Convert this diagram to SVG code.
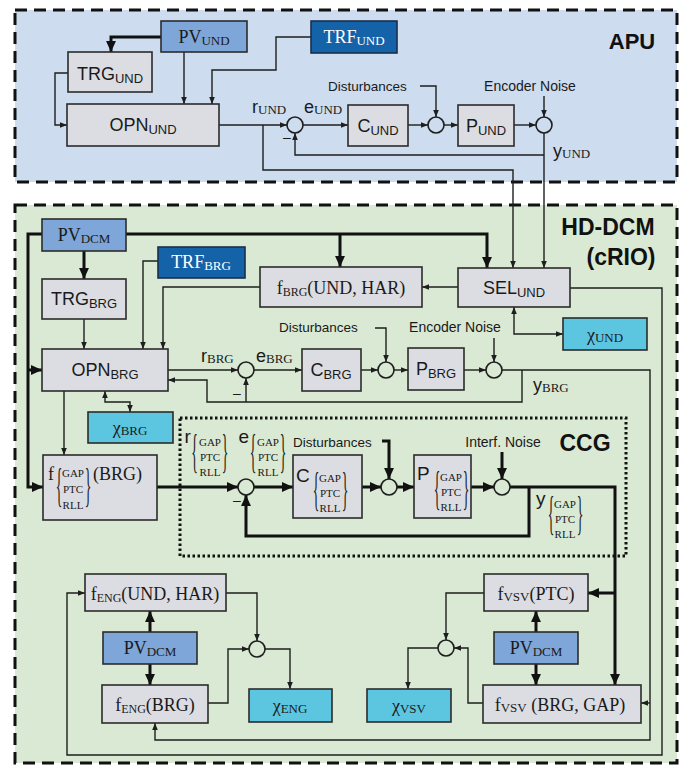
<svg xmlns="http://www.w3.org/2000/svg" width="685" height="767" viewBox="0 0 685 767">
<defs>
<style>
.box{fill:#dcdde2;stroke:#2b2b2b;stroke-width:1.6}
.pv{fill:#7ea6d8;stroke:#2b2b2b;stroke-width:1.6}
.trf{fill:#1462a8;stroke:#1b2f4c;stroke-width:1.6}
.chi{fill:#5cc6e0;stroke:#2b2b2b;stroke-width:1.6}
.sum{fill:none;stroke:#1e1e1e;stroke-width:1.6}
.thin{fill:none;stroke:#1e1e1e;stroke-width:1.4}
.thick{fill:none;stroke:#111;stroke-width:3}
.sans{font-family:"Liberation Sans",Arial,sans-serif;fill:#1a1a1a}
.serif{font-family:"Liberation Serif","Times New Roman",serif;fill:#1a1a1a}
.bold{font-family:"Liberation Sans",Arial,sans-serif;font-weight:bold;fill:#111}
.st{font-family:"Liberation Serif","Times New Roman",serif;fill:#1a1a1a;font-size:11px;text-anchor:middle}
.w{fill:#fff}
.mid{text-anchor:middle}
</style>
<marker id="a" viewBox="0 0 10 10" refX="10" refY="5" markerWidth="7" markerHeight="7" markerUnits="userSpaceOnUse" orient="auto-start-reverse"><path d="M0,1 L10,5 L0,9 z" fill="#1e1e1e"/></marker>
<marker id="b" viewBox="0 0 10 10" refX="10" refY="5" markerWidth="11" markerHeight="11" markerUnits="userSpaceOnUse" orient="auto-start-reverse"><path d="M0,0.5 L10,5 L0,9.5 z" fill="#111"/></marker>
</defs>
<rect width="685" height="767" fill="#fff"/>

<!-- region frames -->
<g id="APU">
<rect x="15" y="10" width="662" height="172" fill="#cddcee" stroke="#111" stroke-width="3" stroke-dasharray="12,7"/>
<text class="bold mid" x="632" y="49" font-size="22">APU</text>
</g>
<g id="HD-DCM">
<rect x="15" y="205" width="662" height="558" fill="#d9e9d3" stroke="#111" stroke-width="3" stroke-dasharray="12,7"/>
<text class="bold mid" x="608" y="235" font-size="23">HD-DCM</text>
<text class="bold mid" x="621" y="265" font-size="23">(cRIO)</text>
</g>
<g id="CCG">
<rect x="180" y="418" width="446" height="138" fill="none" stroke="#111" stroke-width="3" stroke-dasharray="2.5,2.5"/>
<text class="bold mid" x="585" y="451" font-size="23">CCG</text>
</g>

<g id="connectors">
<!-- APU -->
<path class="thick" d="M161,37 H111 V52" marker-end="url(#b)"/>
<path class="thin" d="M184,52 V104" marker-end="url(#a)"/>
<path class="thin" d="M311,37 H276 V70 H212 V104" marker-end="url(#a)"/>
<path class="thin" d="M68,73 H55 V125 H67" marker-end="url(#a)"/>
<path class="thin" d="M219,125 H287" marker-end="url(#a)"/>
<path class="thin" d="M263,125 V170 H513 V268" marker-end="url(#a)"/>
<path class="thin" d="M303,125 H348" marker-end="url(#a)"/>
<path class="thin" d="M408,125 H428" marker-end="url(#a)"/>
<path class="thin" d="M420,86 H436 V117" marker-end="url(#a)"/>
<path class="thin" d="M444,125 H458" marker-end="url(#a)"/>
<path class="thin" d="M514,125 H536" marker-end="url(#a)"/>
<path class="thin" d="M544,96 V117" marker-end="url(#a)"/>
<path class="thin" d="M544,133 V268" marker-end="url(#a)"/>
<path class="thin" d="M544,155 H295 V133" marker-end="url(#a)"/>
<!-- HD-DCM upper -->
<path class="thick" d="M126,234 H487 V268" marker-end="url(#b)"/>
<path class="thick" d="M340,234 V267" marker-end="url(#b)"/>
<path class="thick" d="M42,234 H28 V487 H43" marker-end="url(#b)"/>
<path class="thick" d="M28,370 H42" marker-end="url(#b)"/>
<path class="thick" d="M84,251 V279" marker-end="url(#b)"/>
<path class="thin" d="M84,319 V349" marker-end="url(#a)"/>
<path class="thin" d="M158,261 H143 V349" marker-end="url(#a)"/>
<path class="thin" d="M260,287 H163 V349" marker-end="url(#a)"/>
<path class="thin" d="M458,287 H422" marker-end="url(#a)"/>
<path class="thin" d="M514,307 V334 H563" marker-start="url(#a)" marker-end="url(#a)"/>
<path class="thin" d="M570,288 H662 V755 H67 V593 H85" marker-end="url(#a)"/>
<path class="thin" d="M168,370 H238" marker-end="url(#a)"/>
<path class="thin" d="M254,370 H302" marker-end="url(#a)"/>
<path class="thin" d="M361,370 H378" marker-end="url(#a)"/>
<path class="thin" d="M375,328 H386 V362" marker-end="url(#a)"/>
<path class="thin" d="M394,370 H408" marker-end="url(#a)"/>
<path class="thin" d="M464,370 H486" marker-end="url(#a)"/>
<path class="thin" d="M494,338 V362" marker-end="url(#a)"/>
<path class="thin" d="M502,370 H650 V740 H155 V723" marker-end="url(#a)"/>
<path class="thin" d="M650,703 H641" marker-end="url(#a)"/>
<path class="thin" d="M522,370 V402 H207 V380 H168" marker-end="url(#a)"/>
<path class="thin" d="M246,402 V378" marker-end="url(#a)"/>
<path class="thin" d="M105,391 V402 H130 V412" marker-start="url(#a)" marker-end="url(#a)"/>
<path class="thin" d="M64,391 V455" marker-end="url(#a)"/>
<!-- CCG -->
<path class="thick" d="M157,487 H238" marker-end="url(#b)"/>
<path class="thick" d="M254,487 H293" marker-end="url(#b)"/>
<path class="thick" d="M362,487 H381" marker-end="url(#b)"/>
<path class="thick" d="M382,441 H389 V479" marker-end="url(#b)"/>
<path class="thick" d="M397,487 H414" marker-end="url(#b)"/>
<path class="thick" d="M471,487 H494" marker-end="url(#b)"/>
<path class="thick" d="M502,452 V479" marker-end="url(#b)"/>
<path class="thick" d="M510,487 H615 V685" marker-end="url(#b)"/>
<path class="thick" d="M615,593 H588" marker-end="url(#b)"/>
<path class="thick" d="M529,487 V536 H246 V495" marker-end="url(#b)"/>
<!-- bottom -->
<path class="thick" d="M150,632 V611" marker-end="url(#b)"/>
<path class="thick" d="M150,664 V685" marker-end="url(#b)"/>
<path class="thin" d="M226,593 H257 V641" marker-end="url(#a)"/>
<path class="thin" d="M208,703 H228 V649 H249" marker-end="url(#a)"/>
<path class="thin" d="M265,649 H290 V689" marker-end="url(#a)"/>
<path class="thick" d="M536,632 V611" marker-end="url(#b)"/>
<path class="thick" d="M536,664 V685" marker-end="url(#b)"/>
<path class="thin" d="M484,593 H446 V640" marker-end="url(#a)"/>
<path class="thin" d="M483,703 H468 V648 H454" marker-end="url(#a)"/>
<path class="thin" d="M438,648 H408 V689" marker-end="url(#a)"/>
</g>

<!-- APU nodes -->
<g id="PV_UND"><rect class="pv" x="161" y="21" width="86" height="31"/><text class="serif mid" x="204" y="43" font-size="18">PV<tspan font-size="13" dy="2">UND</tspan></text></g>
<g id="TRF_UND"><rect class="trf" x="311" y="21" width="86" height="32"/><text class="serif mid w" x="354" y="43" font-size="18">TRF<tspan font-size="13" dy="2">UND</tspan></text></g>
<g id="TRG_UND"><rect class="box" x="68" y="52" width="84" height="40"/><text class="sans mid" x="110" y="80" font-size="18">TRG<tspan font-size="13" dy="3">UND</tspan></text></g>
<g id="OPN_UND"><rect class="box" x="67" y="104" width="152" height="42"/><text class="sans mid" x="143" y="131" font-size="18">OPN<tspan font-size="13" dy="3">UND</tspan></text></g>
<g id="sum_UND1"><circle class="sum" cx="295" cy="125" r="8"/></g>
<g id="C_UND"><rect class="box" x="348" y="105" width="60" height="41"/><text class="sans mid" x="378" y="132" font-size="18">C<tspan font-size="13" dy="3">UND</tspan></text></g>
<g id="sum_UND2"><circle class="sum" cx="436" cy="125" r="8"/></g>
<g id="P_UND"><rect class="box" x="458" y="105" width="56" height="41"/><text class="sans mid" x="486" y="132" font-size="18">P<tspan font-size="13" dy="3">UND</tspan></text></g>
<g id="sum_UND3"><circle class="sum" cx="544" cy="125" r="8"/></g>
<g id="labels_UND">
<text class="sans" x="252" y="113" font-size="18">r<tspan class="serif" font-size="13" dy="1">UND</tspan></text>
<text class="sans" x="304" y="113" font-size="18">e<tspan class="serif" font-size="13" dy="1">UND</tspan></text>
<text class="sans" x="283" y="142" font-size="14">–</text>
<text class="sans" x="328" y="91" font-size="13.5">Disturbances</text>
<text class="sans mid" x="530" y="91" font-size="14">Encoder Noise</text>
<text class="sans" x="553" y="157" font-size="18">y<tspan class="serif" font-size="13" dy="1">UND</tspan></text>
</g>

<!-- HD-DCM nodes -->
<g id="PV_DCM"><rect class="pv" x="42" y="219" width="84" height="32"/><text class="serif mid" x="84" y="241" font-size="18">PV<tspan font-size="13" dy="2">DCM</tspan></text></g>
<g id="TRF_BRG"><rect class="trf" x="158" y="247" width="87" height="31"/><text class="serif mid w" x="201" y="268" font-size="18">TRF<tspan font-size="13" dy="2">BRG</tspan></text></g>
<g id="TRG_BRG"><rect class="box" x="42" y="279" width="84" height="40"/><text class="sans mid" x="84" y="305" font-size="18">TRG<tspan font-size="13" dy="3">BRG</tspan></text></g>
<g id="f_BRG"><rect class="box" x="260" y="267" width="162" height="40"/><text class="serif mid" x="341" y="294" font-size="18">f<tspan font-size="12" dy="2">BRG</tspan><tspan dy="-2">(UND, HAR)</tspan></text></g>
<g id="SEL_UND"><rect class="box" x="458" y="268" width="112" height="39"/><text class="sans mid" x="514" y="294" font-size="18">SEL<tspan font-size="13" dy="3">UND</tspan></text></g>
<g id="chi_UND"><rect class="chi" x="563" y="318" width="84" height="32"/><text class="serif mid" x="605" y="341" font-size="18">χ<tspan font-size="13" dy="1">UND</tspan></text></g>
<g id="OPN_BRG"><rect class="box" x="42" y="349" width="126" height="42"/><text class="sans mid" x="105" y="376" font-size="18">OPN<tspan font-size="13" dy="3">BRG</tspan></text></g>
<g id="sum_BRG1"><circle class="sum" cx="246" cy="370" r="8"/></g>
<g id="C_BRG"><rect class="box" x="302" y="349" width="59" height="42"/><text class="sans mid" x="331" y="376" font-size="18">C<tspan font-size="13" dy="3">BRG</tspan></text></g>
<g id="sum_BRG2"><circle class="sum" cx="386" cy="370" r="8"/></g>
<g id="P_BRG"><rect class="box" x="408" y="348" width="56" height="42"/><text class="sans mid" x="436" y="375" font-size="18">P<tspan font-size="13" dy="3">BRG</tspan></text></g>
<g id="sum_BRG3"><circle class="sum" cx="494" cy="370" r="8"/></g>
<g id="chi_BRG"><rect class="chi" x="88" y="412" width="85" height="31"/><text class="serif mid" x="130" y="434" font-size="18">χ<tspan font-size="13" dy="1">BRG</tspan></text></g>
<g id="labels_BRG">
<text class="sans" x="201" y="362" font-size="18">r<tspan class="serif" font-size="13" dy="1">BRG</tspan></text>
<text class="sans" x="256" y="362" font-size="18">e<tspan class="serif" font-size="13" dy="1">BRG</tspan></text>
<text class="sans" x="233" y="398" font-size="14">–</text>
<text class="sans" x="279" y="332" font-size="13.5">Disturbances</text>
<text class="sans mid" x="455" y="332" font-size="14">Encoder Noise</text>
<text class="sans" x="533" y="391" font-size="18">y<tspan class="serif" font-size="13" dy="1">BRG</tspan></text>
</g>

<!-- CCG nodes -->
<g id="f_CCG"><rect class="box" x="43" y="455" width="114" height="65"/>
<text class="serif" x="48" y="480" font-size="18">f</text>
<text class="serif" transform="translate(59,501) scale(0.3,1)" text-anchor="middle" font-size="46">{</text>
<text class="st" x="73" y="477">GAP</text><text class="st" x="73" y="493">PTC</text><text class="st" x="73" y="509">RLL</text>
<text class="serif" transform="translate(88,501) scale(0.3,1)" text-anchor="middle" font-size="46">}</text>
<text class="serif" x="93" y="480" font-size="18">(BRG)</text>
</g>
<g id="sum_CCG1"><circle class="sum" cx="246" cy="487" r="8"/></g>
<g id="C_CCG"><rect class="box" x="293" y="455" width="69" height="63"/>
<text class="sans" x="296" y="482" font-size="19">C</text>
<text class="serif" transform="translate(316,505) scale(0.3,1)" text-anchor="middle" font-size="46">{</text>
<text class="st" x="330" y="482">GAP</text><text class="st" x="330" y="497">PTC</text><text class="st" x="330" y="512">RLL</text>
<text class="serif" transform="translate(345,505) scale(0.3,1)" text-anchor="middle" font-size="46">}</text>
</g>
<g id="sum_CCG2"><circle class="sum" cx="389" cy="487" r="8"/></g>
<g id="P_CCG"><rect class="box" x="414" y="455" width="57" height="63"/>
<text class="sans" x="417" y="480" font-size="19">P</text>
<text class="serif" transform="translate(437,504) scale(0.3,1)" text-anchor="middle" font-size="46">{</text>
<text class="st" x="451" y="481">GAP</text><text class="st" x="451" y="496">PTC</text><text class="st" x="451" y="511">RLL</text>
<text class="serif" transform="translate(466,504) scale(0.3,1)" text-anchor="middle" font-size="46">}</text>
</g>
<g id="sum_CCG3"><circle class="sum" cx="502" cy="487" r="8"/></g>
<g id="labels_CCG">
<text class="sans" x="184.5" y="443" font-size="19">r</text>
<text class="serif" transform="translate(194.5,467) scale(0.3,1)" text-anchor="middle" font-size="46">{</text>
<text class="st" x="210" y="446">GAP</text><text class="st" x="210" y="461">PTC</text><text class="st" x="210" y="476">RLL</text>
<text class="serif" transform="translate(225,467) scale(0.3,1)" text-anchor="middle" font-size="46">}</text>
<text class="sans" x="238.5" y="443" font-size="19">e</text>
<text class="serif" transform="translate(253,467) scale(0.3,1)" text-anchor="middle" font-size="46">{</text>
<text class="st" x="268" y="446">GAP</text><text class="st" x="268" y="461">PTC</text><text class="st" x="268" y="476">RLL</text>
<text class="serif" transform="translate(283,467) scale(0.3,1)" text-anchor="middle" font-size="46">}</text>
<text class="sans" x="293" y="447" font-size="13.5">Disturbances</text>
<text class="sans mid" x="503" y="447" font-size="14">Interf. Noise</text>
<text class="sans" x="233" y="505" font-size="14">–</text>
<text class="sans" x="536" y="505" font-size="19">y</text>
<text class="serif" transform="translate(551,529) scale(0.3,1)" text-anchor="middle" font-size="46">{</text>
<text class="st" x="565" y="508">GAP</text><text class="st" x="565" y="523">PTC</text><text class="st" x="565" y="538">RLL</text>
<text class="serif" transform="translate(580,529) scale(0.3,1)" text-anchor="middle" font-size="46">}</text>
</g>

<!-- bottom nodes -->
<g id="f_ENG_UND"><rect class="box" x="85" y="574" width="141" height="37"/><text class="serif mid" x="155" y="600" font-size="18">f<tspan font-size="12" dy="2">ENG</tspan><tspan dy="-2">(UND, HAR)</tspan></text></g>
<g id="PV_DCM_ENG"><rect class="pv" x="103" y="632" width="94" height="32"/><text class="serif mid" x="150" y="654" font-size="18">PV<tspan font-size="13" dy="2">DCM</tspan></text></g>
<g id="f_ENG_BRG"><rect class="box" x="102" y="685" width="106" height="38"/><text class="serif mid" x="155" y="711" font-size="18">f<tspan font-size="12" dy="2">ENG</tspan><tspan dy="-2">(BRG)</tspan></text></g>
<g id="sum_ENG"><circle class="sum" cx="257" cy="649" r="8"/></g>
<g id="chi_ENG"><rect class="chi" x="249" y="689" width="83" height="33"/><text class="serif mid" x="290" y="712" font-size="18">χ<tspan font-size="13" dy="1">ENG</tspan></text></g>
<g id="f_VSV_PTC"><rect class="box" x="484" y="574" width="104" height="37"/><text class="serif mid" x="536" y="600" font-size="18">f<tspan font-size="13" dy="1">VSV</tspan><tspan dy="-1">(PTC)</tspan></text></g>
<g id="PV_DCM_VSV"><rect class="pv" x="494" y="632" width="84" height="32"/><text class="serif mid" x="536" y="654" font-size="18">PV<tspan font-size="13" dy="2">DCM</tspan></text></g>
<g id="f_VSV_BRG"><rect class="box" x="483" y="685" width="158" height="38"/><text class="serif mid" x="560" y="711" font-size="18">f<tspan font-size="13" dy="1">VSV</tspan><tspan dy="-1"> (BRG, GAP)</tspan></text></g>
<g id="sum_VSV"><circle class="sum" cx="446" cy="648" r="8"/></g>
<g id="chi_VSV"><rect class="chi" x="367" y="689" width="84" height="33"/><text class="serif mid" x="409" y="712" font-size="18">χ<tspan font-size="13" dy="1">VSV</tspan></text></g>
</svg>
